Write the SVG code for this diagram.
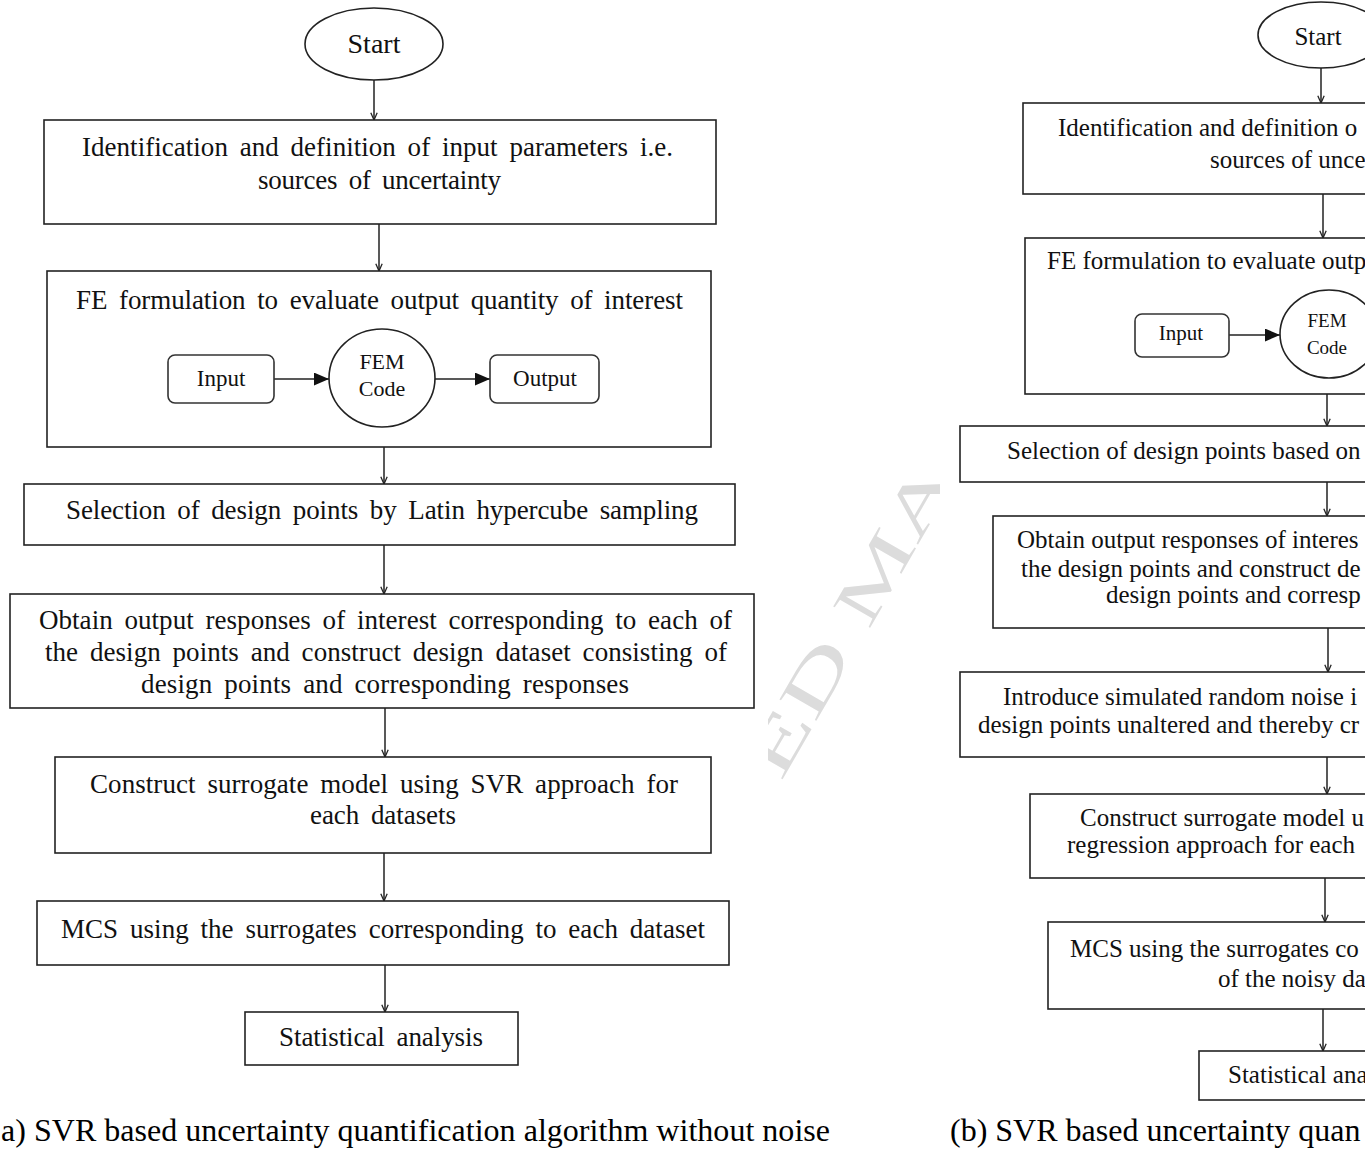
<svg xmlns="http://www.w3.org/2000/svg" width="1365" height="1151" viewBox="0 0 1365 1151">
<defs>
<style>
.box{fill:none;stroke:#222;stroke-width:1.6}
.rbox{fill:#fff;stroke:#333;stroke-width:1.6}
.ln{fill:none;stroke:#222;stroke-width:1.5}
.t{font-family:"Liberation Serif","Times New Roman",serif;fill:#111}
.l{font-size:27px;word-spacing:5px}
.r{font-size:25px}
.c{text-anchor:middle}
.cap{font-size:32px;fill:#000}
.wm{font-family:"Liberation Serif","Times New Roman",serif;font-size:65px;fill:#dcdcdc}
</style>
<marker id="v" viewBox="0 0 10 10" refX="10" refY="5" markerWidth="8" markerHeight="8" markerUnits="userSpaceOnUse" orient="auto">
<path d="M1,1 L10,5 L1,9" fill="none" stroke="#222" stroke-width="1.6"/>
</marker>
<marker id="tri" viewBox="0 0 14 12" refX="14" refY="6" markerWidth="15" markerHeight="13" markerUnits="userSpaceOnUse" orient="auto">
<path d="M0,0 L14,6 L0,12 z" fill="#111"/>
</marker>
<clipPath id="wmclip"><rect x="768" y="470" width="172" height="340"/></clipPath>
</defs>
<rect width="1365" height="1151" fill="#fff"/>

<g id="watermark" clip-path="url(#wmclip)">
<text class="wm" transform="translate(781,782) rotate(-60) scale(1.7,1)">ED MA</text>
</g>

<g id="connectors">
<line class="ln" x1="374" y1="80" x2="374" y2="120" marker-end="url(#v)"/>
<line class="ln" x1="379" y1="224" x2="379" y2="271" marker-end="url(#v)"/>
<line class="ln" x1="384" y1="447" x2="384" y2="484" marker-end="url(#v)"/>
<line class="ln" x1="384" y1="545" x2="384" y2="594" marker-end="url(#v)"/>
<line class="ln" x1="385" y1="708" x2="385" y2="757" marker-end="url(#v)"/>
<line class="ln" x1="384" y1="853" x2="384" y2="901" marker-end="url(#v)"/>
<line class="ln" x1="385" y1="965" x2="385" y2="1012" marker-end="url(#v)"/>
<line class="ln" x1="274" y1="379" x2="329" y2="379" marker-end="url(#tri)"/>
<line class="ln" x1="435" y1="379" x2="490" y2="379" marker-end="url(#tri)"/>

<line class="ln" x1="1321" y1="68" x2="1321" y2="103" marker-end="url(#v)"/>
<line class="ln" x1="1323" y1="194" x2="1323" y2="238" marker-end="url(#v)"/>
<line class="ln" x1="1327" y1="394" x2="1327" y2="426" marker-end="url(#v)"/>
<line class="ln" x1="1327" y1="482" x2="1327" y2="516" marker-end="url(#v)"/>
<line class="ln" x1="1328" y1="628" x2="1328" y2="672" marker-end="url(#v)"/>
<line class="ln" x1="1327" y1="757" x2="1327" y2="794" marker-end="url(#v)"/>
<line class="ln" x1="1325" y1="878" x2="1325" y2="922" marker-end="url(#v)"/>
<line class="ln" x1="1323" y1="1009" x2="1323" y2="1051" marker-end="url(#v)"/>
<line class="ln" x1="1229" y1="335" x2="1280" y2="335" marker-end="url(#tri)"/>
</g>

<!-- Panel (a) -->
<g id="a-start">
<ellipse class="box" cx="374" cy="44" rx="69" ry="36"/>
<text class="t c" x="374" y="53" font-size="28">Start</text>
</g>
<g id="a-identification">
<rect class="box" x="44" y="120" width="672" height="104"/>
<text class="t l" x="82" y="156" textLength="591" lengthAdjust="spacing">Identification and definition of input parameters i.e.</text>
<text class="t l" x="258" y="189" textLength="243" lengthAdjust="spacing">sources of uncertainty</text>
</g>
<g id="a-fe">
<rect class="box" x="47" y="271" width="664" height="176"/>
<text class="t l" x="76" y="309" textLength="607" lengthAdjust="spacing">FE formulation to evaluate output quantity of interest</text>
</g>
<g id="a-input">
<rect class="rbox" x="168" y="355" width="106" height="48" rx="7"/>
<text class="t c" x="221" y="386" font-size="23">Input</text>
</g>
<g id="a-fem">
<ellipse class="box" cx="382" cy="378" rx="53" ry="49"/>
<text class="t c" x="382" y="369" font-size="22">FEM</text>
<text class="t c" x="382" y="396" font-size="22">Code</text>
</g>
<g id="a-output">
<rect class="rbox" x="490" y="355" width="109" height="48" rx="7"/>
<text class="t c" x="545" y="386" font-size="23">Output</text>
</g>
<g id="a-selection">
<rect class="box" x="24" y="484" width="711" height="61"/>
<text class="t l" x="66" y="519" textLength="632" lengthAdjust="spacing">Selection of design points by Latin hypercube sampling</text>
</g>
<g id="a-obtain">
<rect class="box" x="10" y="594" width="744" height="114"/>
<text class="t l" x="39" y="629" textLength="693" lengthAdjust="spacing">Obtain output responses of interest corresponding to each of</text>
<text class="t l" x="45" y="661" textLength="682" lengthAdjust="spacing">the design points and construct design dataset consisting of</text>
<text class="t l" x="141" y="693" textLength="488" lengthAdjust="spacing">design points and corresponding responses</text>
</g>
<g id="a-construct">
<rect class="box" x="55" y="757" width="656" height="96"/>
<text class="t l" x="90" y="793" textLength="588" lengthAdjust="spacing">Construct surrogate model using SVR approach for</text>
<text class="t l" x="310" y="824" textLength="146" lengthAdjust="spacing">each datasets</text>
</g>
<g id="a-mcs">
<rect class="box" x="37" y="901" width="692" height="64"/>
<text class="t l" x="61" y="938" textLength="644" lengthAdjust="spacing">MCS using the surrogates corresponding to each dataset</text>
</g>
<g id="a-stat">
<rect class="box" x="245" y="1012" width="273" height="53"/>
<text class="t l" x="279" y="1046" textLength="204" lengthAdjust="spacing">Statistical analysis</text>
</g>
<text class="t cap" x="1" y="1141" textLength="829" lengthAdjust="spacing">a) SVR based uncertainty quantification algorithm without noise</text>

<!-- Panel (b) -->
<g id="b-start">
<ellipse class="box" cx="1321" cy="35" rx="63" ry="33"/>
<text class="t c" x="1318" y="45" font-size="25">Start</text>
</g>
<g id="b-identification">
<rect class="box" x="1023" y="103" width="600" height="91"/>
<text class="t r" x="1058" y="136">Identification and definition o</text>
<text class="t r" x="1210" y="168">sources of unce</text>
</g>
<g id="b-fe">
<rect class="box" x="1025" y="238" width="600" height="156"/>
<text class="t r" x="1047" y="269">FE formulation to evaluate outp</text>
</g>
<g id="b-input">
<rect class="rbox" x="1135" y="314" width="94" height="43" rx="7"/>
<text class="t c" x="1181" y="340" font-size="21">Input</text>
</g>
<g id="b-fem">
<ellipse class="box" cx="1329" cy="334" rx="49" ry="44"/>
<text class="t c" x="1327" y="327" font-size="19">FEM</text>
<text class="t c" x="1327" y="354" font-size="19">Code</text>
</g>
<g id="b-selection">
<rect class="box" x="960" y="426" width="700" height="56"/>
<text class="t r" x="1007" y="459">Selection of design points based on</text>
</g>
<g id="b-obtain">
<rect class="box" x="993" y="516" width="700" height="112"/>
<text class="t r" x="1017" y="548">Obtain output responses of interes</text>
<text class="t r" x="1021" y="577">the design points and construct de</text>
<text class="t r" x="1106" y="603">design points and corresp</text>
</g>
<g id="b-noise">
<rect class="box" x="960" y="672" width="700" height="85"/>
<text class="t r" x="1003" y="705">Introduce simulated random noise i</text>
<text class="t r" x="978" y="733">design points unaltered and thereby cr</text>
</g>
<g id="b-construct">
<rect class="box" x="1030" y="794" width="600" height="84"/>
<text class="t r" x="1080" y="826">Construct surrogate model u</text>
<text class="t r" x="1067" y="853">regression approach for each</text>
</g>
<g id="b-mcs">
<rect class="box" x="1048" y="922" width="600" height="87"/>
<text class="t r" x="1070" y="957">MCS using the surrogates co</text>
<text class="t r" x="1218" y="987">of the noisy da</text>
</g>
<g id="b-stat">
<rect class="box" x="1199" y="1051" width="300" height="49"/>
<text class="t r" x="1228" y="1083">Statistical ana</text>
</g>
<text class="t cap" x="950" y="1141">(b) SVR based uncertainty quan</text>
</svg>
